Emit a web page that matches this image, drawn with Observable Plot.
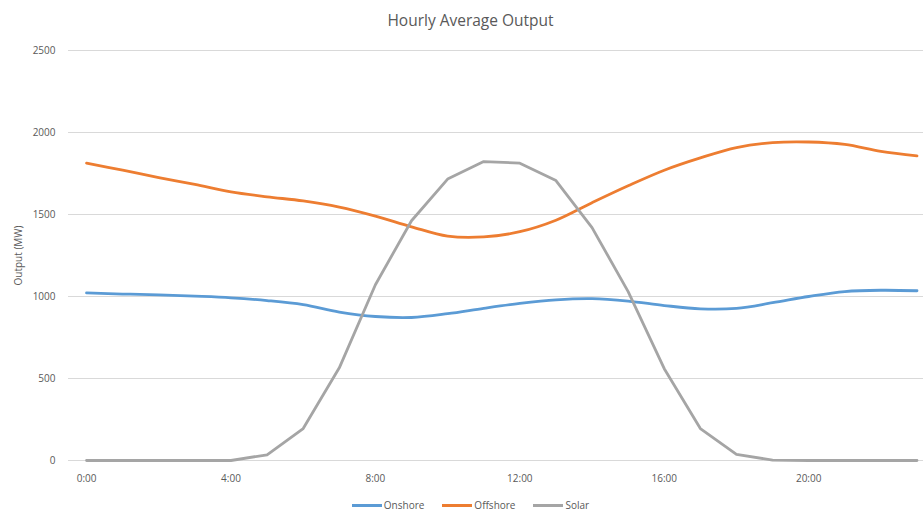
<!DOCTYPE html>
<html>
<head>
<meta charset="utf-8">
<script src="https://cdn.jsdelivr.net/npm/d3@7"></script>
<script src="https://cdn.jsdelivr.net/npm/@observablehq/plot@0.6"></script>
<style>
  html, body { margin: 0; padding: 0; background: #fff; }
  body { width: 923px; height: 513px; overflow: hidden; font-family: "Open Sans", "Liberation Sans", sans-serif; color: #595959; }
  #title { height: 40px; line-height: 40px; text-align: center; font-size: 15.5px; color: #595959; padding-left: 18px; }
  #legend { display: flex; justify-content: center; align-items: center; gap: 18px; font-size: 10px; color: #595959; margin-top: 8px; padding-left: 18px; }
  .item { display: flex; align-items: center; gap: 2px; }
  .sw { display: inline-block; width: 30px; height: 3px; }
</style>
</head>
<body>
<div id="title">Hourly Average Output</div>
<div id="chart"></div>
<div id="legend"></div>
<script>
const hours = [0,1,2,3,4,5,6,7,8,9,10,11,12,13,14,15,16,17,18,19,20,21,22,23];
const onshore  = [1022,1015,1010,1002,992,975,950,905,878,872,895,928,958,980,987,972,945,925,928,962,1000,1030,1038,1035];
const offshore = [1813,1770,1725,1683,1638,1608,1583,1545,1490,1425,1368,1363,1395,1465,1572,1675,1770,1845,1908,1938,1942,1927,1885,1858];
const solar    = [0,0,0,0,0,35,195,565,1072,1462,1716,1823,1813,1707,1420,1030,560,195,38,2,0,0,0,0];
const seriesNames = ["Onshore", "Offshore", "Solar"];
const seriesColors = ["#5B9BD5", "#ED7D31", "#A5A5A5"];
const yTicks = [0, 500, 1000, 1500, 2000, 2500];
const xTicks = [0, 4, 8, 12, 16, 20];

const values = [onshore, offshore, solar];
const rows = (i) => hours.map((h, j) => ({hour: h, value: values[i][j], series: seriesNames[i]}));

const chart = Plot.plot({
  width: 923,
  height: 450,
  marginLeft: 68,
  marginRight: 0,
  marginTop: 10,
  marginBottom: 30,
  style: {fontFamily: "'Open Sans', 'Liberation Sans', sans-serif", fontSize: "10px", color: "#595959", background: "#fff"},
  x: {domain: [-0.5, 23.18], label: null},
  y: {domain: [0, 2500], label: null},
  marks: [
    Plot.gridY(yTicks, {stroke: "#d9d9d9", strokeOpacity: 1, strokeWidth: 1}),
    Plot.axisY({ticks: yTicks, tickFormat: d => String(d), tickSize: 0, tickPadding: 13, label: "Output (MW)", labelAnchor: "center", labelArrow: "none", labelOffset: 54, fill: "#595959"}),
    Plot.axisX({ticks: xTicks, tickFormat: d => `${d}:00`, tickSize: 0, tickPadding: 14, label: null, fill: "#595959"}),
    Plot.line(rows(0), {x: "hour", y: "value", stroke: seriesColors[0], strokeWidth: 2.8, curve: "catmull-rom"}),
    Plot.line(rows(1), {x: "hour", y: "value", stroke: seriesColors[1], strokeWidth: 2.8, curve: "catmull-rom"}),
    Plot.line(rows(2), {x: "hour", y: "value", stroke: seriesColors[2], strokeWidth: 2.8, curve: "linear"})
  ]
});
document.getElementById("chart").appendChild(chart);

const legend = document.getElementById("legend");
seriesNames.forEach((name, i) => {
  const item = document.createElement("div");
  item.className = "item";
  const sw = document.createElement("span");
  sw.className = "sw";
  sw.style.background = seriesColors[i];
  const label = document.createElement("span");
  label.textContent = name;
  item.appendChild(sw);
  item.appendChild(label);
  legend.appendChild(item);
});
</script>
</body>
</html>
